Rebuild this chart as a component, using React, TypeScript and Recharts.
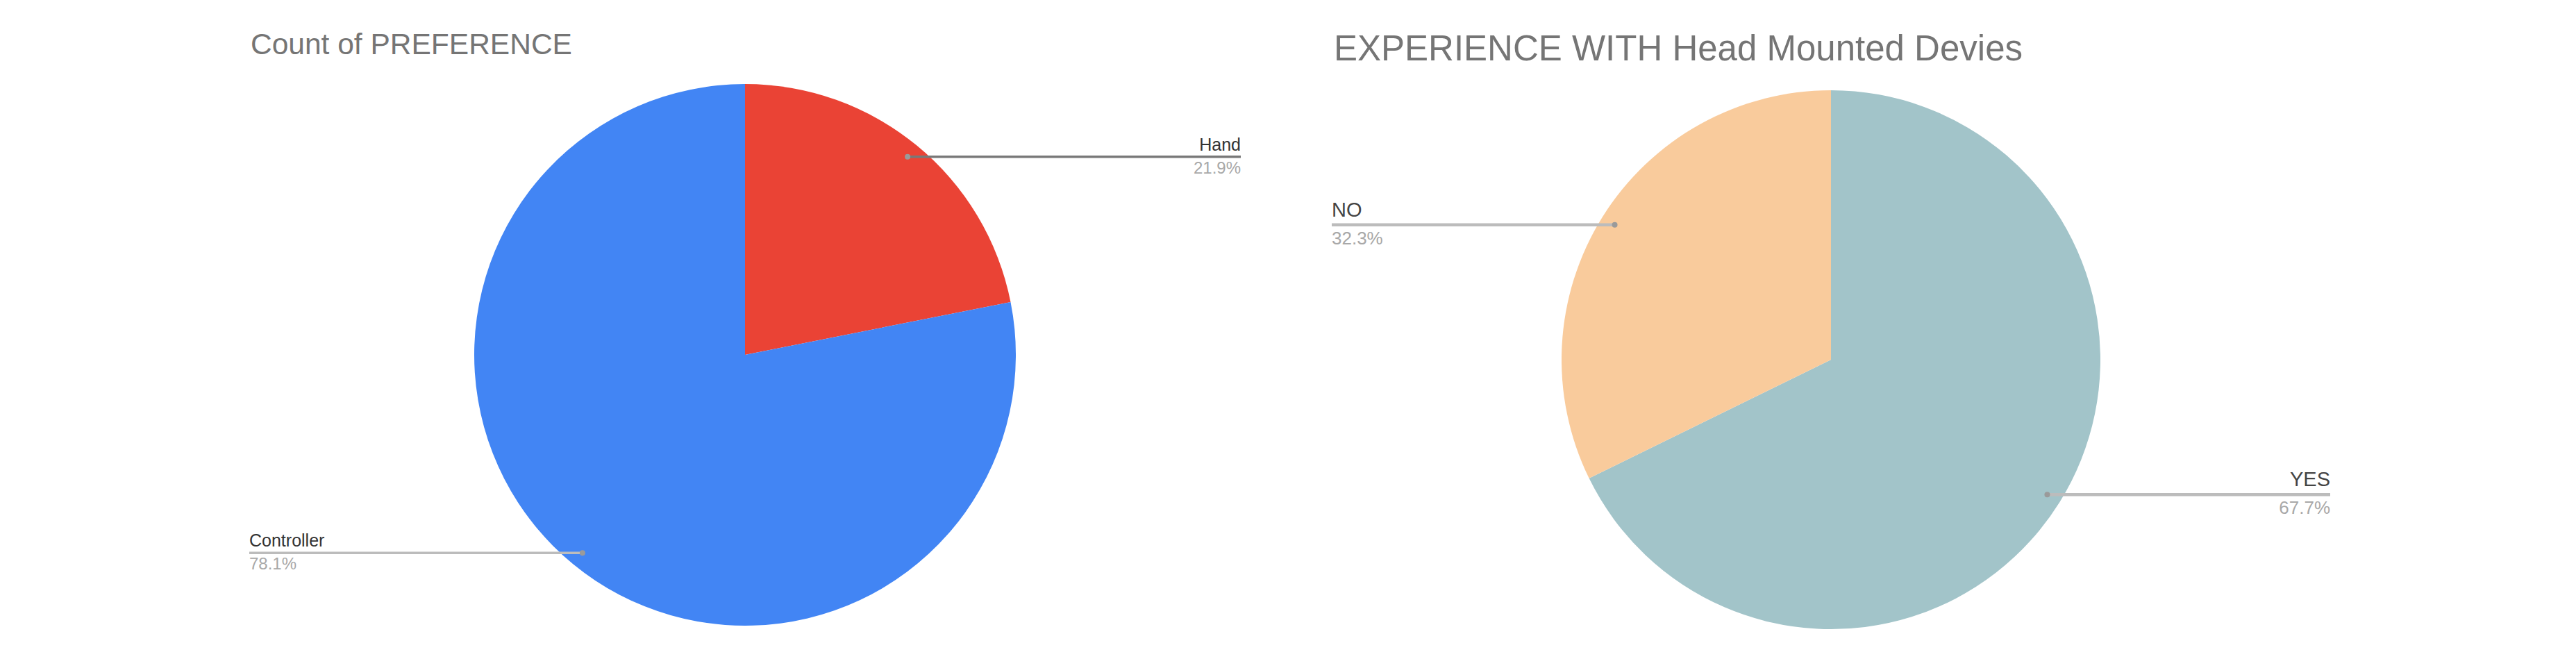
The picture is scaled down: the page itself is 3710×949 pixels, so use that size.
import React from "react";
import { Cell, Pie, PieChart } from "recharts";

const preferenceLabels = ["Hand", "Controller"];
const preferenceCounts = [7, 25];
const experienceLabels = ["YES", "NO"];
const experienceCounts = [21, 10];

const preferenceColors = ["#EA4335", "#4285F4"];
const experienceColors = ["#A2C4C9", "#F9CB9C"];

const FONT = "'Liberation Sans', Arial, sans-serif";
const RADIAN = Math.PI / 180;

const preferenceData = preferenceLabels.map((name, i) => ({ name, value: preferenceCounts[i] }));
const experienceData = experienceLabels.map((name, i) => ({ name, value: experienceCounts[i] }));

type LabelStyle = {
  reach: number;
  nameSize: number;
  pctSize: number;
  nameColor: string;
  nameWeight: number | string;
  lineColors: string[];
  lineWidth: number;
  nameGap: number;
  pctGap: number;
};

function makeLabel(style: LabelStyle) {
  return (props: any) => {
    const { cx, cy, midAngle, outerRadius, percent, name, index } = props;
    const r = outerRadius - 21;
    const px = cx + r * Math.cos(-midAngle * RADIAN);
    const py = cy + r * Math.sin(-midAngle * RADIAN);
    const right = px > cx;
    const tx = right ? cx + style.reach : cx - style.reach;
    const anchor = right ? "end" : "start";
    return (
      <g key={`lbl-${index}`}>
        <line
          x1={px}
          y1={py}
          x2={tx}
          y2={py}
          stroke={style.lineColors[index] ?? "#bdbdbd"}
          strokeWidth={style.lineWidth}
        />
        <circle cx={px} cy={py} r={4} fill="#9a9a9a" />
        <text
          x={tx}
          y={py - style.nameGap}
          textAnchor={anchor}
          fontFamily={FONT}
          fontSize={style.nameSize}
          fontWeight={style.nameWeight}
          fill={style.nameColor}
        >
          {name}
        </text>
        <text
          x={tx}
          y={py + style.pctGap}
          textAnchor={anchor}
          fontFamily={FONT}
          fontSize={style.pctSize}
          fill="#a8a8a8"
        >
          {(percent * 100).toFixed(1)}%
        </text>
      </g>
    );
  };
}

const leftLabel = makeLabel({
  reach: 714,
  nameSize: 25,
  pctSize: 24,
  nameColor: "#333333",
  nameWeight: "normal",
  lineColors: ["#787878", "#bcbcbc"],
  lineWidth: 3.5,
  nameGap: 9,
  pctGap: 24,
});

const rightLabel = makeLabel({
  reach: 719,
  nameSize: 29,
  pctSize: 26,
  nameColor: "#444444",
  nameWeight: 500,
  lineColors: ["#bcbcbc", "#bcbcbc"],
  lineWidth: 4.5,
  nameGap: 12,
  pctGap: 28,
});

export default function App() {
  return (
    <div style={{ width: 3710, height: 949, background: "#fff" }}>
      <style>{"body{margin:0;}"}</style>
      <PieChart width={3710} height={949} margin={{ top: 0, right: 0, bottom: 0, left: 0 }}>
        <text x={361} y={78} fontFamily={FONT} fontSize={42.5} fill="#757575">
          Count of PREFERENCE
        </text>
        <text x={1921} y={87} fontFamily={FONT} fontSize={51} fill="#757575">
          EXPERIENCE WITH Head Mounted Devies
        </text>
        <Pie
          data={preferenceData}
          dataKey="value"
          nameKey="name"
          cx={1073}
          cy={511}
          outerRadius={390}
          startAngle={90}
          endAngle={-270}
          stroke="none"
          labelLine={false}
          label={leftLabel}
          isAnimationActive={false}
        >
          {preferenceData.map((d, i) => (
            <Cell key={d.name} fill={preferenceColors[i]} />
          ))}
        </Pie>
        <Pie
          data={experienceData}
          dataKey="value"
          nameKey="name"
          cx={2637}
          cy={518}
          outerRadius={388}
          startAngle={90}
          endAngle={-270}
          stroke="none"
          labelLine={false}
          label={rightLabel}
          isAnimationActive={false}
        >
          {experienceData.map((d, i) => (
            <Cell key={d.name} fill={experienceColors[i]} />
          ))}
        </Pie>
      </PieChart>
    </div>
  );
}
